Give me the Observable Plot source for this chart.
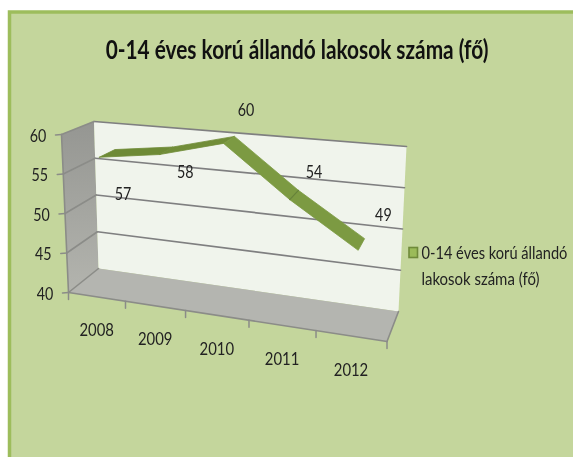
<!DOCTYPE html>
<html><head><meta charset="utf-8">
<script src="https://cdn.jsdelivr.net/npm/d3@7"></script>
<script src="https://cdn.jsdelivr.net/npm/@observablehq/plot@0.6"></script>
<style>html,body{margin:0;padding:0;background:#fff;overflow:hidden}svg{display:block;filter:blur(.4px)}</style>
</head><body><div id="c"></div>
<script>
const title = "0-14 éves korú állandó lakosok száma (fő)";
const seriesName = ["0-14 éves korú állandó", "lakosok száma (fő)"];
const years = ["2008","2009","2010","2011","2012"];
const values = [57,58,60,54,49];
const valueTicks = [40,45,50,55,60];

// camera: the eight box corners on screen and the perspective of the category axis
const W=573,H=457;
const box={ flb:[68,292], flt:[61,134], frb:[386.5,341], frt:[398,160],
            blb:[98,268], blt:[93.5,121], brb:[398,311], brt:[406,146] };
const K=1.147;
const mix=(a,b,t)=>a+(b-a)*t;
function P(u,val,d){ // u 0..1 across categories, val in value units, d 0=front 1=back
  const s=u/(u+K*(1-u)), v=(val-40)/20;
  const c=i=>{
    const f=mix(mix(box.flb[i],box.frb[i],s),mix(box.flt[i],box.frt[i],s),v);
    const b=mix(mix(box.blb[i],box.brb[i],s),mix(box.blt[i],box.brt[i],s),v);
    return mix(f,b,d);
  };
  return {x:c(0),y:c(1)};
}
const poly=(id,pts)=>pts.concat([pts[0]]).map(p=>({...p,id}));
const n=years.length, uC=i=>(i+.5)/n, uE=i=>i/n;

const leftWall=poly("l",[P(0,40,0),P(0,60,0),P(0,60,1),P(0,40,1)]);
const backWall=poly("b",[P(0,40,1),P(0,60,1),P(1,60,1),P(1,40,1)]);
const floor=poly("f",[P(0,40,0),P(1,40,0),P(1,40,1),P(0,40,1)]);
const gridBack=valueTicks.filter(v=>v>40).flatMap(v=>[P(0,v,1),P(1,v,1)].map(p=>({...p,id:v})));
const gridSide=valueTicks.flatMap(v=>[P(0,v,0),P(0,v,1)].map(p=>({...p,id:v})));
const edges=[[P(0,40,0),P(1,40,0)],[P(1,40,0),P(1,40,1)],[P(0,40,0),P(0,60,0)]]
  .flatMap((e,i)=>e.map(p=>({...p,id:i})));
const vTicks=valueTicks.flatMap(v=>{const a=P(0,v,0);return [{x:a.x-6,y:a.y+.5,id:v},{x:a.x,y:a.y,id:v}]});
const cTicks=d3.range(n+1).flatMap(i=>{const a=P(uE(i),40,0);return [{...a,id:i},{x:a.x,y:a.y+7,id:i}]});

const D0=.24,D1=.76;
const ribbonSegs=d3.range(n-1).map(i=>
  poly("s"+i,[P(uC(i),values[i],D0),P(uC(i+1),values[i+1],D0),P(uC(i+1),values[i+1],D1),P(uC(i),values[i],D1)]));
const segFill=["#6e8a36","#718d38","#7c9a42","#7c9a42"];
const seam=[P(uC(3),values[3],D0),P(uC(3),values[3],D1)].map(p=>({...p,id:"seam"}));

const labelShift=[[16,41],[19,22],[17,-29],[20,-22],[22,-29]];
const valueLabels=values.map((v,i)=>{const p=P(uC(i),v,.5);return {x:p.x+labelShift[i][0],y:p.y+labelShift[i][1],t:String(v)}});
const yearLabels=years.map((t,i)=>{const p=P(uC(i),40,0);return {x:p.x,y:p.y+34,t}});
const tickLabels=valueTicks.map(v=>{const p=P(0,v,0);return {x:p.x-23.5,y:p.y+2,t:String(v)}});

const font="Lato,'Open Sans',sans-serif";
const shape=(d,o)=>Plot.line(d,{x:"x",y:"y",z:"id",...o});
const gradient=()=>{
  const ns="http://www.w3.org/2000/svg", defs=document.createElementNS(ns,"defs");
  defs.innerHTML='<linearGradient id="wall" x1="0" y1="0" x2="0" y2="1"><stop offset="0" stop-color="#959692"/><stop offset="1" stop-color="#b3b4ae"/></linearGradient>';
  return defs;
};
const chart=Plot.plot({
  width:W,height:H,margin:0,
  x:{domain:[0,W],range:[0,W],axis:null},
  y:{domain:[0,H],range:[0,H],axis:null},
  style:{background:"#fff",fontFamily:font},
  marks:[
    gradient,
    Plot.rect([{x1:9.5,x2:W+6,y1:12,y2:H+6}],{x1:"x1",x2:"x2",y1:"y1",y2:"y2",fill:"#c4d69c",stroke:"#9dbd5c",strokeWidth:3.5}),
    shape(leftWall,{fill:"url(#wall)",stroke:"none"}),
    shape(backWall,{fill:"#f0f4ec",stroke:"none"}),
    shape(floor,{fill:"#b4b5b0",stroke:"none"}),
    shape(gridBack,{stroke:"#7f7f80",strokeWidth:1.7}),
    shape(gridSide,{stroke:"#8b8c88",strokeWidth:1.6}),
    shape(edges,{stroke:"#8b8c88",strokeWidth:1.6}),
    shape(vTicks,{stroke:"#8b8c88",strokeWidth:1.5}),
    shape(cTicks,{stroke:"#8b8c88",strokeWidth:1.5}),
    ...ribbonSegs.map((s,i)=>shape(s,{fill:segFill[i],stroke:segFill[i],strokeWidth:.8})),
    shape(seam,{stroke:"#66823a",strokeWidth:1.2}),
    Plot.text(tickLabels,{x:"x",y:"y",text:"t",fontSize:17,fill:"#222",className:"sq-tick"}),
    Plot.text(yearLabels,{x:"x",y:"y",text:"t",fontSize:17.5,fill:"#222",className:"sq-year"}),
    Plot.text(valueLabels,{x:"x",y:"y",text:"t",fontSize:17,fill:"#222",className:"sq-tick"}),
    Plot.text([title],{x:()=>296.5,y:()=>50,text:d=>d,fontSize:26,fontWeight:"bold",fill:"#111",className:"sq-title"}),
    Plot.rect([0],{x1:()=>409,x2:()=>417.5,y1:()=>247.5,y2:()=>257.5,fill:"#9bbb59",stroke:"#6f8a3a",strokeWidth:1.6}),
    Plot.text(seriesName,{x:()=>421,y:(d,i)=>i?279:253,text:d=>d,textAnchor:"start",fontSize:17,fill:"#222",className:"sq-legend"})
  ]
});
document.getElementById("c").append(chart);
// the reference's narrow lettering: scale each text run horizontally about its anchor to its measured width
const narrow=(sel,widths)=>chart.querySelectorAll(sel+" text").forEach((t,i)=>{
  const natural=t.getComputedTextLength();
  const s=typeof widths==="number"?widths:widths[i]/natural;
  const x=+t.getAttribute("x")||0, old=t.getAttribute("transform")||"";
  t.setAttribute("transform",`${old} translate(${x} 0) scale(${s} 1) translate(${-x} 0)`);
});
narrow(".sq-title",[383]);
narrow(".sq-legend",[146,118]);
narrow(".sq-tick",.84);
narrow(".sq-year",.85);
</script></body></html>
